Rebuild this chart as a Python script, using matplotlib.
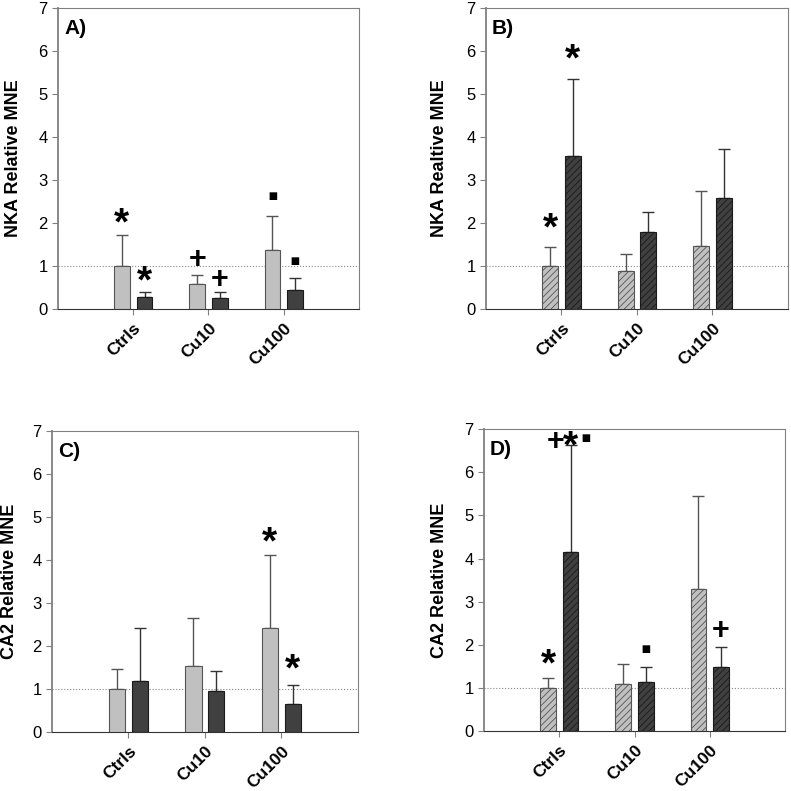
import numpy as np
import matplotlib
matplotlib.use("Agg")
import matplotlib.pyplot as plt
from matplotlib.transforms import offset_copy

plt.rcParams['font.family'] = ['Liberation Sans', 'DejaVu Sans']
plt.rcParams['hatch.linewidth'] = 0.6

groups = ["Ctrls", "Cu10", "Cu100"]
panels = ["A)", "B)", "C)", "D)"]
ylabels = ["NKA Relative MNE", "NKA Realtive MNE", "CA2 Relative MNE", "CA2 Relative MNE"]

# mean values (light = first series, dark = second series)
light_A = [1.00, 0.58, 1.37]
dark_A = [0.28, 0.26, 0.43]
light_B = [1.00, 0.88, 1.46]
dark_B = [3.55, 1.78, 2.57]
light_C = [1.00, 1.54, 2.42]
dark_C = [1.19, 0.95, 0.66]
light_D = [1.00, 1.10, 3.29]
dark_D = [4.14, 1.14, 1.49]

# upper error bars
light_err_A = [0.73, 0.21, 0.80]
dark_err_A = [0.12, 0.13, 0.29]
light_err_B = [0.43, 0.40, 1.29]
dark_err_B = [1.81, 0.48, 1.14]
light_err_C = [0.46, 1.12, 1.70]
dark_err_C = [1.23, 0.46, 0.43]
light_err_D = [0.24, 0.45, 2.15]
dark_err_D = [2.50, 0.35, 0.46]

# significance marks: (group, series, symbol, y)
marks_A = [(0, 0, "*", 2.15), (0, 1, "*", 0.80), (1, 0, "+", 1.21), (1, 1, "+", 0.74),
           (2, 0, "▪", 2.57), (2, 1, "▪", 1.07)]
marks_B = [(0, 0, "*", 2.05), (0, 1, "*", 5.98)]
marks_C = [(2, 0, "*", 4.58), (2, 1, "*", 1.62)]
marks_D = [(0, 0, "*", 1.72), (0, 1, "+*▪", 6.76), (1, 1, "▪", 1.86), (2, 1, "+", 2.38)]

lights = [light_A, light_B, light_C, light_D]
darks = [dark_A, dark_B, dark_C, dark_D]
light_errs = [light_err_A, light_err_B, light_err_C, light_err_D]
dark_errs = [dark_err_A, dark_err_B, dark_err_C, dark_err_D]
marks = [marks_A, marks_B, marks_C, marks_D]
hatched = [False, True, False, True]

# axes boxes in figure fraction (left, bottom, width, height)
boxes = [(0.0733, 0.6094, 0.3805, 0.3805),
         (0.6144, 0.6094, 0.3818, 0.3805),
         (0.0657, 0.0746, 0.3868, 0.3805),
         (0.6119, 0.0759, 0.3805, 0.3815)]
label_x = [-0.12, -0.126, -0.111, -0.12]

# glyph size and vertical nudge (points) so the glyph centre sits on y
sym_size = {"*": 28, "+": 22, "▪": 22}
sym_dy = {"*": -6, "+": -2, "▪": 0}

fig = plt.figure(figsize=(7.91, 7.91), dpi=100)
x = np.arange(1, len(groups) + 1)
w = 0.21
off = 0.15

for i in range(4):
    ax = fig.add_axes(boxes[i])
    h = "/////" if hatched[i] else None
    ax.bar(x - off, lights[i], w, color="#c0c0c0", edgecolor="#555555", linewidth=0.8,
           hatch=h, zorder=3)
    ax.bar(x + off, darks[i], w, color="#404040", edgecolor="#1a1a1a", linewidth=0.8,
           hatch=h, zorder=3)
    ax.errorbar(x - off, lights[i], yerr=[np.zeros(3), light_errs[i]], fmt="none",
                ecolor="#555555", elinewidth=1, capsize=4, capthick=1, zorder=2)
    ax.errorbar(x + off, darks[i], yerr=[np.zeros(3), dark_errs[i]], fmt="none",
                ecolor="#333333", elinewidth=1, capsize=4, capthick=1, zorder=2)
    ax.axhline(1, ls=":", color="#888888", lw=0.8, zorder=1)

    for g, s, sym, yv in marks[i]:
        xc = x[g] + (off if s else -off)
        n = len(sym)
        for k, ch in enumerate(sym):
            tr = offset_copy(ax.transData, fig=fig, x=(k - (n - 1) / 2) * 11,
                             y=sym_dy[ch], units="points")
            ax.text(xc, yv, ch, transform=tr, ha="center", va="center",
                    fontsize=sym_size[ch], fontweight="bold", zorder=4)

    ax.set_xlim(0, 4)
    ax.set_ylim(0, 7)
    ax.set_yticks(range(8))
    ax.set_xticks(x)
    ax.set_xticklabels(groups, rotation=45, ha="right", rotation_mode="anchor",
                       fontweight="bold", fontsize=12.5)
    ax.tick_params(axis="y", labelsize=12, direction="out", length=4, color="#808080")
    ax.tick_params(axis="x", direction="out", length=4, color="#808080", pad=4)
    for sp in ["top", "right", "left"]:
        ax.spines[sp].set_color("#808080")
    ax.spines["left"].set_linewidth(1.3)
    ax.spines["bottom"].set_color("#333333")
    ax.set_ylabel(ylabels[i], fontweight="bold", fontsize=13)
    ax.yaxis.set_label_coords(label_x[i], 0.5)
    ax.text(0.02, 0.965, panels[i], transform=ax.transAxes, ha="left", va="top",
            fontsize=15, fontweight="bold")

fig.savefig("out.png", dpi=100)
